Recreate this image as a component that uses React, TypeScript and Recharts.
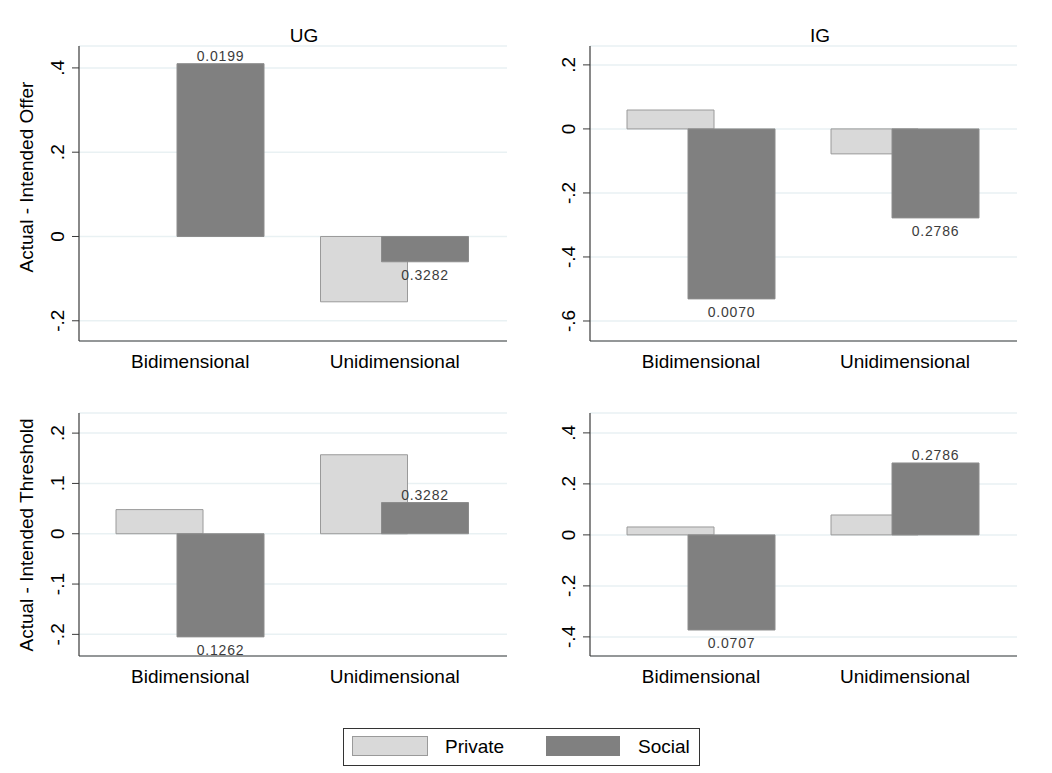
import React from "react";
import { BarChart, Bar, XAxis, YAxis, CartesianGrid, LabelList } from "recharts";

const categories = ["Bidimensional", "Unidimensional"];

// UG - Offer
const ugOfferPrivate: (number | null)[] = [null, -0.155];
const ugOfferSocial = [0.41, -0.06];
const ugOfferP = ["0.0199", "0.3282"];
const ugOfferTicks = [-0.2, 0, 0.2, 0.4];

// IG - Offer
const igOfferPrivate = [0.059, -0.078];
const igOfferSocial = [-0.531, -0.278];
const igOfferP = ["0.0070", "0.2786"];
const igOfferTicks = [-0.6, -0.4, -0.2, 0, 0.2];

// UG - Threshold
const ugThrPrivate = [0.048, 0.157];
const ugThrSocial = [-0.205, 0.062];
const ugThrP = ["0.1262", "0.3282"];
const ugThrTicks = [-0.2, -0.1, 0, 0.1, 0.2];

// IG - Threshold
const igThrPrivate = [0.031, 0.078];
const igThrSocial = [-0.373, 0.282];
const igThrP = ["0.0707", "0.2786"];
const igThrTicks = [-0.4, -0.2, 0, 0.2, 0.4];

const seriesNames = ["Private", "Social"];

const PRIVATE_FILL = "#d9d9d9";
const PRIVATE_STROKE = "#9a9a9a";
const SOCIAL_FILL = "#808080";
const AXIS = "#3a3a3a";
const GRID = "#e9f1f3";
const FONT = "Arial, 'Liberation Sans', Helvetica, sans-serif";

const fmt = (v: number) => {
  if (Math.abs(v) < 1e-9) return "0";
  const s = Math.abs(v).toFixed(1).replace(/^0/, "");
  return (v < 0 ? "-" : "") + s;
};

const buildData = (priv: (number | null)[], soc: number[], p: string[]) =>
  categories.map((c, i) => ({ cat: c, priv: priv[i], soc: soc[i], p: p[i] }));

type PanelProps = {
  left: number;
  top: number;
  width: number;
  height: number;
  plotLeft: number;
  plotTop: number;
  plotRight: number;
  plotBottom: number;
  domain: [number, number];
  ticks: number[];
  priv: (number | null)[];
  soc: number[];
  p: string[];
  title?: string;
  titleX?: number;
  titleY?: number;
  yTitle?: string;
  yTitleCenter?: number;
};

const YTick = (props: any) => {
  const { x, y, payload } = props;
  const bx = x - 6;
  return (
    <text
      x={bx}
      y={y}
      transform={`rotate(-90, ${bx}, ${y})`}
      textAnchor="middle"
      fontSize={19}
      fontFamily={FONT}
      fill="#000"
    >
      {fmt(payload.value)}
    </text>
  );
};

const XTick = (props: any) => {
  const { x, y, payload } = props;
  return (
    <text x={x} y={y + 19} textAnchor="middle" fontSize={19} fontFamily={FONT} fill="#000">
      {payload.value}
    </text>
  );
};

const Panel = (pp: PanelProps) => {
  const data = buildData(pp.priv, pp.soc, pp.p);
  const yAxisWidth = 50;
  const xAxisHeight = 40;
  const margin = {
    left: pp.plotLeft - pp.left - yAxisWidth,
    right: pp.left + pp.width - pp.plotRight,
    top: pp.plotTop - pp.top,
    bottom: pp.top + pp.height - pp.plotBottom - xAxisHeight,
  };
  const PLabel = (lp: any) => {
    const { x, y, width, height, index } = lp;
    const v = data[index].soc;
    const topY = Math.min(y, y + height);
    const botY = Math.max(y, y + height);
    const cx = x + width / 2;
    const ty = v >= 0 ? topY - 3 : botY + 18;
    return (
      <text
        x={cx}
        y={ty}
        textAnchor="middle"
        fontSize={14}
        letterSpacing={0.8}
        fontFamily={FONT}
        fill="#3c3c3c"
      >
        {data[index].p}
      </text>
    );
  };
  return (
    <div style={{ position: "absolute", left: pp.left, top: pp.top, width: pp.width, height: pp.height }}>
      <BarChart
        width={pp.width}
        height={pp.height}
        data={data}
        margin={margin}
        barSize={87}
        barGap={-26}
      >
        <CartesianGrid horizontal vertical={false} stroke={GRID} strokeWidth={1.5} />
        <XAxis
          dataKey="cat"
          height={xAxisHeight}
          padding={{ left: 9, right: 10 }}
          tickLine={false}
          axisLine={{ stroke: AXIS, strokeWidth: 1.2 }}
          tick={<XTick />}
          interval={0}
        />
        <YAxis
          width={yAxisWidth}
          domain={pp.domain}
          ticks={pp.ticks}
          allowDataOverflow
          axisLine={{ stroke: AXIS, strokeWidth: 1.2 }}
          tickLine={{ stroke: AXIS }}
          tickSize={7}
          tick={<YTick />}
          interval={0}
        />
        <Bar dataKey="priv" name={seriesNames[0]} fill={PRIVATE_FILL} stroke={PRIVATE_STROKE} strokeWidth={1} isAnimationActive={false} />
        <Bar dataKey="soc" name={seriesNames[1]} fill={SOCIAL_FILL} stroke="#8c8c8c" strokeWidth={1} isAnimationActive={false}>
          <LabelList dataKey="p" content={<PLabel />} />
        </Bar>
        {pp.title ? (
          <text x={pp.titleX} y={pp.titleY} textAnchor="middle" fontSize={19} fontFamily={FONT} fill="#000">
            {pp.title}
          </text>
        ) : null}
        {pp.yTitle ? (
          <text
            x={33}
            y={pp.yTitleCenter}
            transform={`rotate(-90, 33, ${pp.yTitleCenter})`}
            textAnchor="middle"
            fontSize={19}
            fontFamily={FONT}
            fill="#000"
          >
            {pp.yTitle}
          </text>
        ) : null}
      </BarChart>
    </div>
  );
};

const Legend = () => (
  <div
    style={{
      position: "absolute",
      left: 343,
      top: 728,
      width: 357,
      height: 38,
      boxSizing: "border-box",
      border: "1px solid #333",
      background: "#fff",
      fontFamily: FONT,
      fontSize: 19,
    }}
  >
    <div style={{ position: "absolute", left: 8, top: 7, width: 76, height: 20, background: PRIVATE_FILL, border: `1px solid ${PRIVATE_STROKE}`, boxSizing: "border-box" }} />
    <div style={{ position: "absolute", left: 101, top: 6, lineHeight: "24px" }}>{seriesNames[0]}</div>
    <div style={{ position: "absolute", left: 202, top: 7, width: 74, height: 20, background: SOCIAL_FILL }} />
    <div style={{ position: "absolute", left: 294, top: 6, lineHeight: "24px" }}>{seriesNames[1]}</div>
  </div>
);

export default function App() {
  return (
    <div style={{ position: "absolute", left: 0, top: 0, width: 1052, height: 773, background: "#fff", overflow: "hidden" }}>
      <Panel
        left={0} top={0} width={526} height={390}
        plotLeft={79} plotTop={46} plotRight={507} plotBottom={341}
        domain={[-0.248, 0.452]} ticks={ugOfferTicks}
        priv={ugOfferPrivate} soc={ugOfferSocial} p={ugOfferP}
        title="UG" titleX={304} titleY={42}
        yTitle="Actual - Intended Offer" yTitleCenter={177}
      />
      <Panel
        left={526} top={0} width={526} height={390}
        plotLeft={590} plotTop={46} plotRight={1017} plotBottom={341}
        domain={[-0.6625, 0.259]} ticks={igOfferTicks}
        priv={igOfferPrivate} soc={igOfferSocial} p={igOfferP}
        title="IG" titleX={820 - 526} titleY={42}
      />
      <Panel
        left={0} top={390} width={526} height={320}
        plotLeft={79} plotTop={413} plotRight={507} plotBottom={656}
        domain={[-0.243, 0.24]} ticks={ugThrTicks}
        priv={ugThrPrivate} soc={ugThrSocial} p={ugThrP}
        yTitle="Actual - Intended Threshold" yTitleCenter={535 - 390}
      />
      <Panel
        left={526} top={390} width={526} height={320}
        plotLeft={590} plotTop={413} plotRight={1017} plotBottom={656}
        domain={[-0.475, 0.478]} ticks={igThrTicks}
        priv={igThrPrivate} soc={igThrSocial} p={igThrP}
      />
      <Legend />
    </div>
  );
}
